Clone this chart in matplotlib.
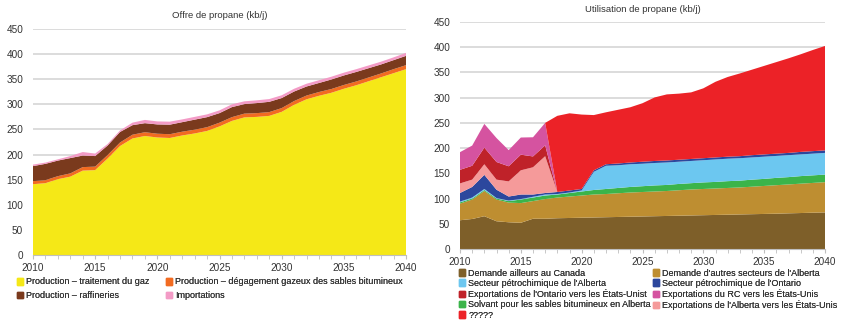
import matplotlib
matplotlib.use("Agg")
import matplotlib.pyplot as plt
from matplotlib.patches import Patch

plt.rcParams['font.family'] = ['Liberation Sans', 'DejaVu Sans']

years = list(range(2010, 2041))

# ---------------- Left chart: Offre de propane ----------------
supply_labels = ["Production – traitement du gaz",
                 "Production – dégagement gazeux des sables bitumineux",
                 "Production – raffineries",
                 "Importations"]
gas_processing = [141, 143, 151, 156, 168, 169, 192, 217, 232, 237, 234, 233, 238, 242, 247, 256,
                  267, 274, 275, 277, 285, 299, 310, 317, 323, 331, 338, 346, 354, 362, 370]
oil_sands_offgas = [6, 6, 6, 6.5, 7, 7, 7, 7, 7.5, 7.5, 7.5, 7.5, 7.5, 7.5, 7.5, 7.5,
                    7.5, 7.5, 7.5, 7.5, 7.5, 7.5, 7.5, 7.5, 7.5, 7.5, 7.5, 7.5, 7.5, 8, 8]
refineries = [30, 32.5, 31, 30.5, 23, 21, 19, 21, 19, 18, 18.5, 19, 19, 20, 20, 19,
              20, 19, 20, 20.5, 20, 19, 18, 18, 19, 19, 19, 18.5, 18, 18, 18.5]
imports = [3, 2.5, 2.5, 4, 7, 5, 3, 3, 5, 6.5, 6, 6, 5.5, 5.5, 5.5, 5.5,
           5.5, 5.5, 5.5, 5.5, 5.5, 5.5, 5.5, 5.5, 5.5, 5.5, 5.5, 5.5, 5.5, 5.5, 6]
supply_colors = ["#F5E817", "#F26B21", "#7A3A1D", "#F39BC6"]

# ---------------- Right chart: Utilisation de propane ----------------
use_labels = ["Demande ailleurs au Canada",
              "Demande d'autres secteurs de l'Alberta",
              "Solvant pour les sables bitumineux en Alberta",
              "Secteur pétrochimique de l'Alberta",
              "Secteur pétrochimique de l'Ontario",
              "Exportations de l'Alberta vers les États-Unis",
              "Exportations de l'Ontario vers les États-Unist",
              "Exportations du RC vers les États-Unis",
              "?????"]
canada_other = [57, 59.5, 65, 55, 53, 52, 60, 60, 61, 61.5, 62, 62.5, 63, 63.5, 64, 64.5,
                65, 65.5, 66, 66.5, 67, 67.5, 68, 68.5, 69, 69.5, 70, 70.7, 71.3, 72, 72.5]
alberta_other = [33, 38.5, 50, 43, 39, 39, 35, 39, 41, 42.5, 44, 45.5, 46, 47, 48, 48.5,
                 49, 49.5, 50.5, 51.5, 52, 52.5, 53, 53.5, 54.5, 55.5, 56.5, 57.3, 58.2, 59, 60]
solvent = [2.5, 2, 2, 2, 3, 7, 7, 7, 6, 7, 8, 9, 10, 10.5, 11, 11.5,
           12, 12, 12.5, 12.5, 13, 13, 13.5, 13.5, 14, 14, 14.5, 14.5, 15, 15, 15]
alberta_petchem = [1.5, 2, 2, 1, 1, 1, 1.5, 2, 1, 1, 2, 36, 46, 45, 45, 44.5,
                   44.5, 44.5, 44, 44, 44, 44.5, 44.5, 44.5, 44, 44, 43.5, 43.5, 43, 43, 43]
ontario_petchem = [17, 21, 28, 16.5, 8, 9, 4.5, 3, 4, 4, 3, 3, 3, 3.5, 3.5, 4,
                   4, 4, 4, 4, 4, 4, 4, 4, 4.5, 4.5, 4.5, 4.5, 5, 5, 5]
alberta_exports = [19, 14.5, 21, 20, 30, 48, 54, 73] + [0] * 23
ontario_exports = [27, 27.5, 33, 35, 30, 31, 21.5, 21.5] + [0] * 23
bc_exports = [35, 40, 47, 47.5, 32, 34, 38, 44.5] + [0] * 23
unknown = [0, 0, 0, 0, 0, 0, 0, 0, 151, 153, 147.5, 109.5, 103, 106.5, 109.5, 116,
           126, 131, 131, 132, 138.5, 150, 158, 164, 169.5, 175.5, 181.5, 187.5, 193.5, 200.5, 207]
use_colors = ["#7E5F29", "#BE8E31", "#3BB44A", "#6CC7F0", "#2C479D",
              "#F59A9A", "#BF2229", "#D553A0", "#EC2227"]

W, H = 846, 324
fig = plt.figure(figsize=(W / 100, H / 100), dpi=100)

grid_c = "#D9D9D9"
text_c = "#333333"
fs_tick = 7.2
fs_leg = 6.5


def style(ax):
    ax.set_xlim(2010, 2040)
    ax.set_ylim(0, 450)
    ax.set_yticks(range(0, 451, 50))
    ax.set_xticks(range(2010, 2041, 5))
    ax.set_xticks(years, minor=True)
    ax.yaxis.grid(True, color=grid_c, linewidth=1.3)
    ax.set_axisbelow(True)
    for s in ["left", "right", "top"]:
        ax.spines[s].set_visible(False)
    ax.spines["bottom"].set_color("#BFBFBF")
    ax.spines["bottom"].set_linewidth(0.8)
    ax.tick_params(axis="y", length=0, pad=7, labelsize=fs_tick, labelcolor=text_c)
    ax.tick_params(axis="x", which="both", length=3, color="#BFBFBF", pad=3,
                   labelsize=fs_tick, labelcolor=text_c)


def column_legend(handles, labels, x_px, y_px, spacing):
    leg = fig.legend(handles, labels, ncol=1, loc="upper left",
                     bbox_to_anchor=(x_px / W, 1 - y_px / H),
                     frameon=False, fontsize=fs_leg, handlelength=0.7,
                     handleheight=0.7, handletextpad=0.35, labelspacing=spacing,
                     borderpad=0, borderaxespad=0, labelcolor=text_c)
    fig.add_artist(leg)
    return leg


# Left
ax1 = fig.add_axes([33 / W, 1 - 255 / H, 373 / W, 226 / H])
ax1.stackplot(years, gas_processing, oil_sands_offgas, refineries, imports,
              colors=supply_colors, linewidth=0)
style(ax1)
ax1.set_title("Offre de propane (kb/j)", fontsize=6.8, color=text_c, pad=8)
h1 = [Patch(color=c) for c in supply_colors]
column_legend([h1[0], h1[2]], [supply_labels[0], supply_labels[2]], 17, 277.5, 0.55)
column_legend([h1[1], h1[3]], [supply_labels[1], supply_labels[3]], 166, 277.5, 0.55)

# Right
ax2 = fig.add_axes([460 / W, 1 - 249 / H, 365 / W, 227 / H])
ax2.stackplot(years, canada_other, alberta_other, solvent, alberta_petchem,
              ontario_petchem, alberta_exports, ontario_exports, bc_exports, unknown,
              colors=use_colors, linewidth=0)
style(ax2)
ax2.set_title("Utilisation de propane (kb/j)", fontsize=6.8, color=text_c, pad=7)
h2 = [Patch(color=c) for c in use_colors]
col1 = [0, 3, 6, 2, 8]
col2 = [1, 4, 7, 5]
column_legend([h2[i] for i in col1], [use_labels[i] for i in col1], 459, 268.5, 0.14)
column_legend([h2[i] for i in col2], [use_labels[i] for i in col2], 652.5, 268.5, 0.14)

fig.savefig("out.png", dpi=100)
